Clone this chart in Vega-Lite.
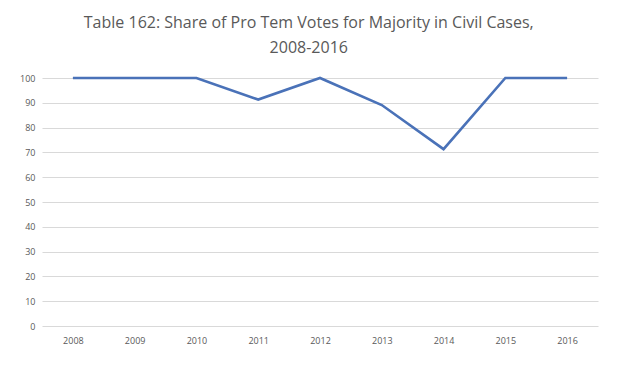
{
  "$schema": "https://vega.github.io/schema/vega-lite/v6.json",
  "autosize": "none",
  "width": 556,
  "height": 248,
  "padding": {"left": 42, "top": 78, "right": 21, "bottom": 42},
  "background": "white",
  "title": {
    "text": ["Table 162: Share of Pro Tem Votes for Majority in Civil Cases,", "2008-2016"],
    "anchor": "middle",
    "frame": "bounds",
    "font": "Open Sans",
    "fontSize": 16,
    "fontWeight": "normal",
    "color": "#595959",
    "lineHeight": 25,
    "offset": 17
  },
  "data": {
    "values": [
      {"year": "2008", "share": 100},
      {"year": "2009", "share": 100},
      {"year": "2010", "share": 100},
      {"year": "2011", "share": 91.3},
      {"year": "2012", "share": 100},
      {"year": "2013", "share": 89.1},
      {"year": "2014", "share": 71.3},
      {"year": "2015", "share": 100},
      {"year": "2016", "share": 100}
    ]
  },
  "mark": {"type": "line", "color": "#4a72b8", "strokeWidth": 2.6},
  "encoding": {
    "x": {
      "field": "year",
      "type": "ordinal",
      "scale": {"type": "point", "padding": 0.5},
      "axis": {
        "title": null,
        "labelAngle": 0,
        "domain": false,
        "ticks": false,
        "labelPadding": 10,
        "labelFont": "Open Sans",
        "labelFontSize": 9,
        "labelColor": "#595959"
      }
    },
    "y": {
      "field": "share",
      "type": "quantitative",
      "scale": {"domain": [0, 100], "nice": false},
      "axis": {
        "title": null,
        "values": [0, 10, 20, 30, 40, 50, 60, 70, 80, 90, 100],
        "domain": false,
        "ticks": false,
        "labelPadding": 7,
        "labelFont": "Open Sans",
        "labelFontSize": 9,
        "labelColor": "#595959",
        "gridColor": "#d9d9d9",
        "gridWidth": 1
      }
    }
  },
  "config": {"view": {"stroke": null}}
}
